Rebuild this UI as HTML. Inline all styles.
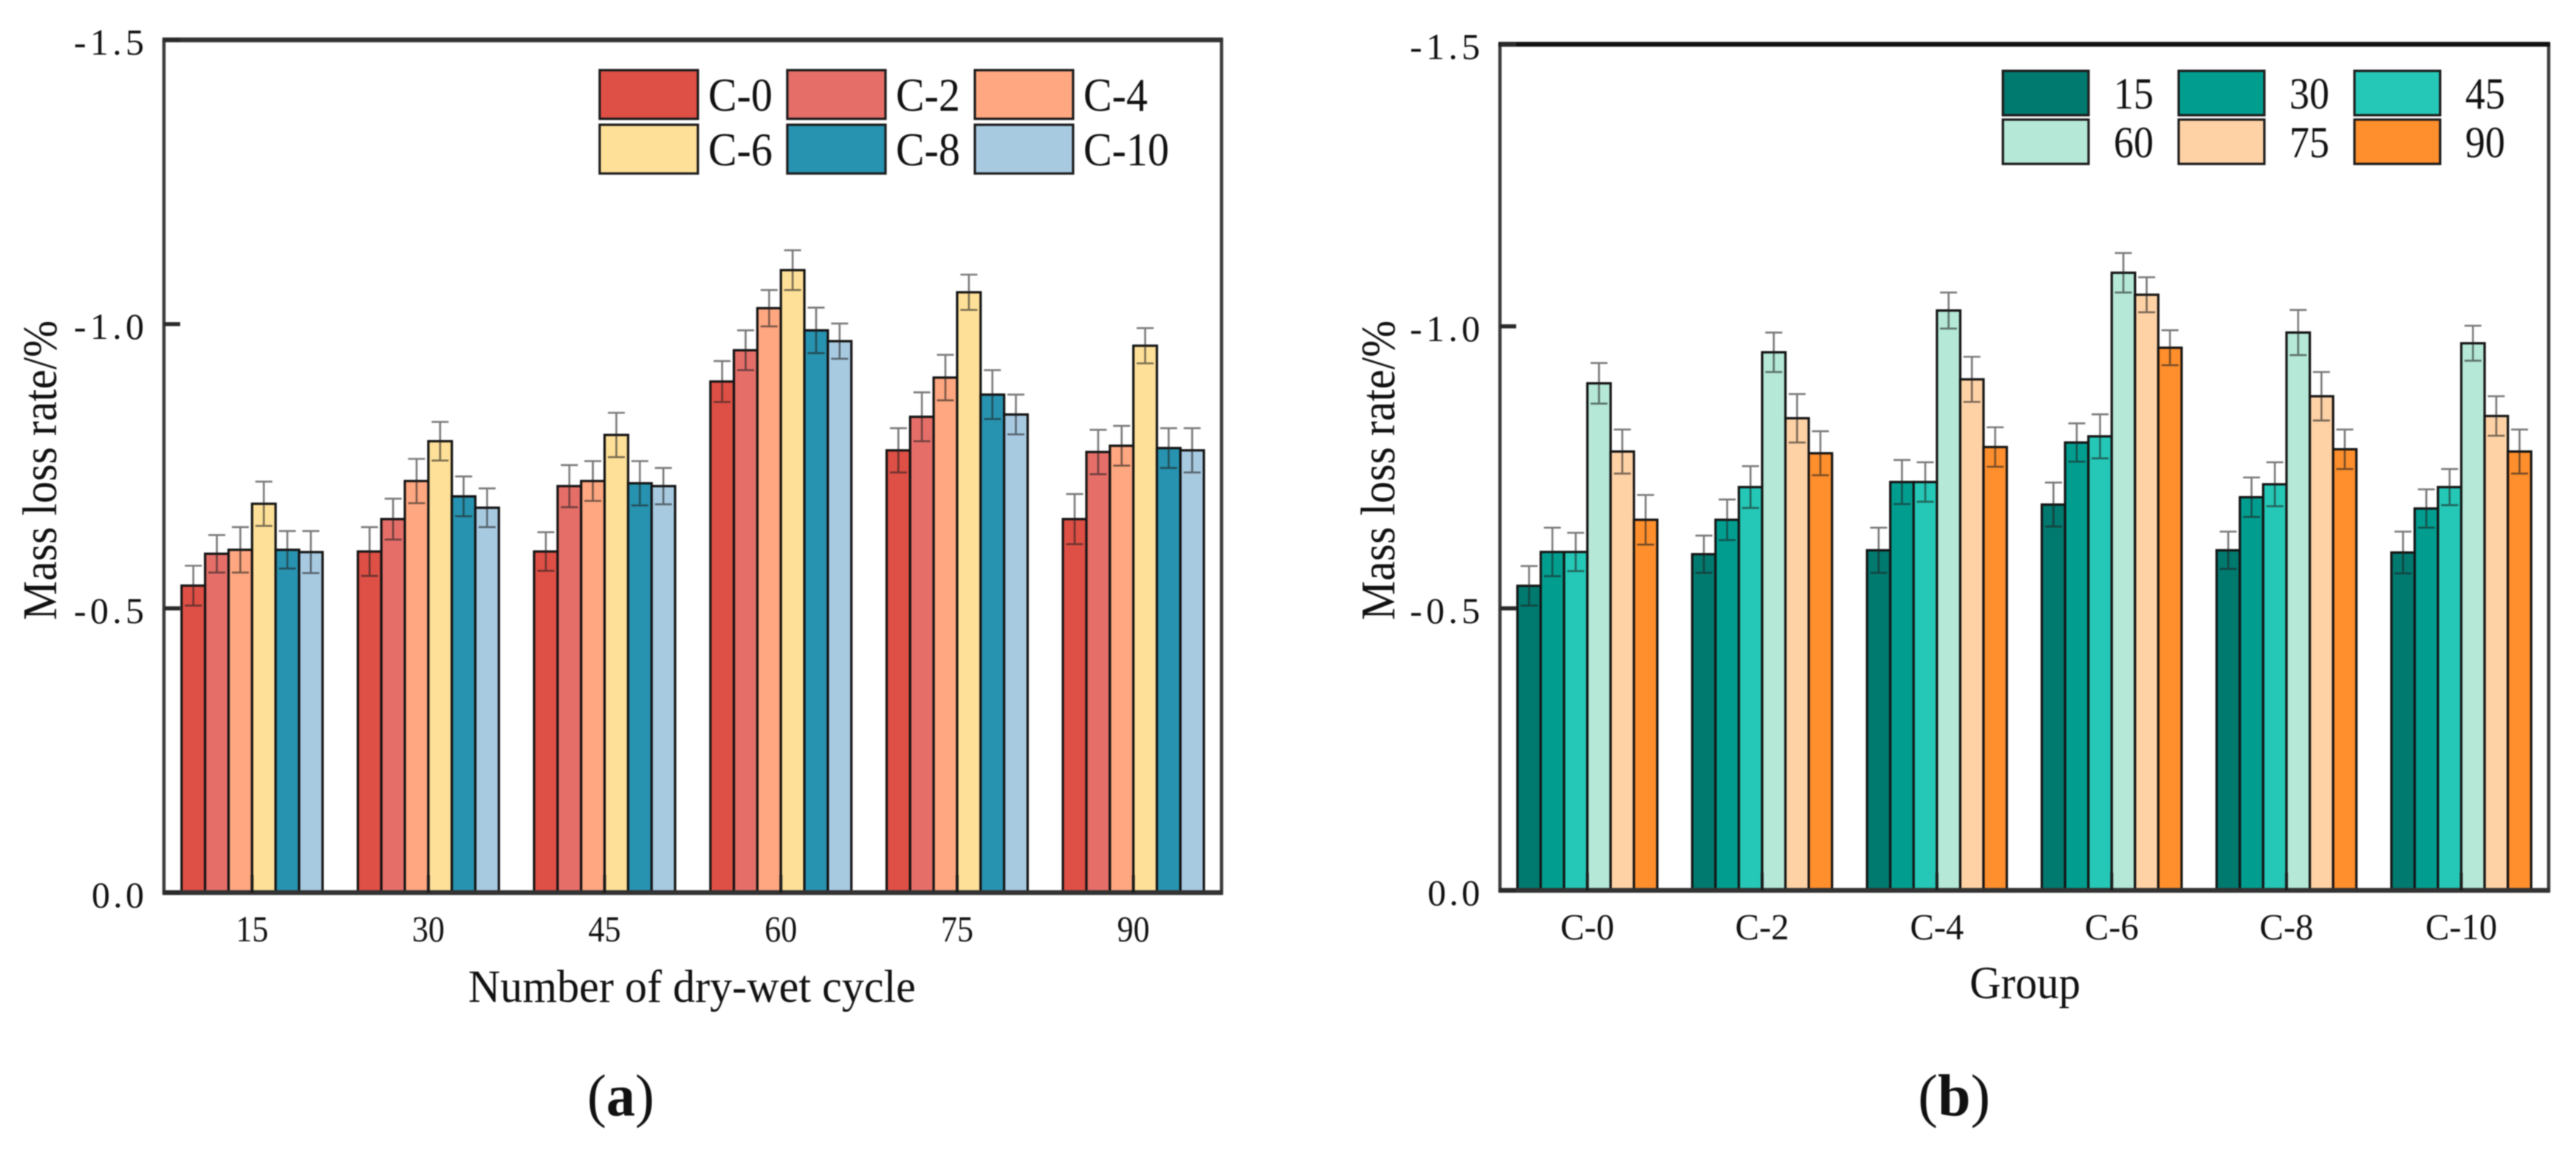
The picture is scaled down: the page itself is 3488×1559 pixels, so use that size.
<!DOCTYPE html>
<html lang="en">
<head>
<meta charset="utf-8">
<title>Mass loss rate charts</title>
<style>
html,body{margin:0;padding:0;background:#fff;width:3488px;height:1559px;overflow:hidden}
svg{display:block;filter:blur(0.7px)}
text{font-family:"Liberation Serif","Noto Serif CJK SC",serif;fill:#111}
</style>
</head>
<body>
<svg id="figure" xmlns="http://www.w3.org/2000/svg" width="3488" height="1559" viewBox="0 0 3488 1559">
  <rect x="0" y="0" width="3488" height="1559" fill="#fff"/>
  <g id="panel-a"></g>
  <g id="panel-b"></g>
  <text x="634" y="1357" font-size="62" textLength="606" lengthAdjust="spacingAndGlyphs">Number of dry-wet cycle</text>
  <text x="2667" y="1352" font-size="62" textLength="150" lengthAdjust="spacingAndGlyphs">Group</text>
  <text transform="translate(76,840) rotate(-90)" font-size="66" textLength="406" lengthAdjust="spacingAndGlyphs">Mass loss rate/%</text>
  <text transform="translate(1888,840) rotate(-90)" font-size="66" textLength="406" lengthAdjust="spacingAndGlyphs">Mass loss rate/%</text>
  <text x="795" y="1511" font-size="80" textLength="91" lengthAdjust="spacingAndGlyphs">(<tspan font-weight="bold">a</tspan>)</text>
  <text x="2597" y="1511" font-size="80" textLength="98" lengthAdjust="spacingAndGlyphs">(<tspan font-weight="bold">b</tspan>)</text>
</svg>
<script>
const cycleLabels = ['15', '30', '45', '60', '75', '90'];
const groupLabels = ['C-0', 'C-2', 'C-4', 'C-6', 'C-8', 'C-10'];
const yTickValues = [0, -0.5, -1.0, -1.5];
const yTickLabels = ['0.0', '-0.5', '-1.0', '-1.5'];

const massC0 = [-0.540, -0.600, -0.600, -0.899, -0.778, -0.657];
const massC2 = [-0.596, -0.657, -0.715, -0.954, -0.837, -0.775];
const massC4 = [-0.603, -0.724, -0.724, -1.028, -0.906, -0.786];
const massC6 = [-0.684, -0.794, -0.805, -1.095, -1.056, -0.962];
const massC8 = [-0.603, -0.697, -0.720, -0.989, -0.876, -0.782];
const massC10 = [-0.599, -0.677, -0.715, -0.970, -0.841, -0.778];

const errC0 = [0.035, 0.043, 0.034, 0.036, 0.039, 0.044];
const errC2 = [0.033, 0.036, 0.037, 0.035, 0.043, 0.039];
const errC4 = [0.040, 0.039, 0.035, 0.032, 0.040, 0.035];
const errC6 = [0.039, 0.034, 0.039, 0.035, 0.031, 0.031];
const errC8 = [0.033, 0.035, 0.039, 0.040, 0.043, 0.035];
const errC10 = [0.037, 0.034, 0.032, 0.031, 0.035, 0.039];

const massTable = [massC0, massC2, massC4, massC6, massC8, massC10];
const errTable = [errC0, errC2, errC4, errC6, errC8, errC10];

const groupColors = ['#DE4F45', '#E56E69', '#FFA780', '#FEE098', '#2793B0', '#A8CAE1'];
const cycleColors = ['#00796F', '#019E90', '#25C7B6', '#B5E8D7', '#FFD2A6', '#FF8E2C'];

const SVGNS = 'http://www.w3.org/2000/svg';
function make(parent, tag, attrs, content) {
  const el = document.createElementNS(SVGNS, tag);
  for (const k in attrs) el.setAttribute(k, attrs[k]);
  if (content !== undefined) el.textContent = content;
  parent.appendChild(el);
  return el;
}

function drawPanel(cfg) {
  const root = document.getElementById(cfg.id);
  const xBand = (cfg.right - cfg.left) / cfg.cats.length;
  const xCenter = i => cfg.left + xBand * (i + 0.5);
  const barW = xBand * 0.8 / cfg.series.length;
  const yAxis = v => cfg.y0 + v * cfg.yScale;

  const bars = make(root, 'g', {});
  
  
  const errs = make(root, 'g', {});
  
  

  cfg.cats.forEach((cat, c) => {
    cfg.series.forEach((ser, s) => {
      const v = cfg.value(c, s);
      const e = cfg.error(c, s);
      const bx = xCenter(c) + (s - cfg.series.length / 2) * barW;
      const rect = make(bars, 'rect', {
        x: bx, y: yAxis(v), width: barW, height: yAxis(0) - yAxis(v),
        fill: cfg.colors[s], stroke: '#141414', 'stroke-width': 3.2
      });
      
      

      const mid = bx + barW / 2;
      const yHi = yAxis(v - e);
      const yLo = yAxis(v + e);
      const eb = make(errs, 'path', {
        d: 'M' + mid + ' ' + yHi + 'V' + yLo +
           'M' + (mid - 11.5) + ' ' + yHi + 'H' + (mid + 11.5) +
           'M' + (mid - 11.5) + ' ' + yLo + 'H' + (mid + 11.5),
        fill: 'none', stroke: '#222', 'stroke-opacity': 0.6, 'stroke-width': 2.6
      });
      
      
    });
  });

  const frame = make(root, 'rect', {
    x: cfg.left, y: yAxis(-1.5), width: cfg.right - cfg.left, height: yAxis(0) - yAxis(-1.5),
    fill: 'none', stroke: '#3c3c3c', 'stroke-width': 4.5
  });
  
  

  const topSpine = make(root, 'line', {
    x1: cfg.left - 2, x2: cfg.right + 2, y1: yAxis(-1.5), y2: yAxis(-1.5),
    stroke: cfg.topColor, 'stroke-width': 6.5
  });
  
  

  const bottomSpine = make(root, 'line', {
    x1: cfg.left - 2, x2: cfg.right + 2, y1: yAxis(0), y2: yAxis(0),
    stroke: '#333', 'stroke-width': 6.5
  });
  
  

  yTickValues.forEach((tv, i) => {
    const tick = make(root, 'line', {
      x1: cfg.left, x2: cfg.left + 22, y1: yAxis(tv), y2: yAxis(tv),
      stroke: '#2a2a2a', 'stroke-width': 5.5
    });
    
    
    const isShort = yTickLabels[i].length === 3;
    const lab = make(root, 'text', {
      x: cfg.left - 27, y: yAxis(tv) + 20, 'font-size': 50, 'text-anchor': 'end',
      textLength: isShort ? 71 : 95, lengthAdjust: 'spacing'
    }, yTickLabels[i]);
    
    
  });

  cfg.cats.forEach((cat, c) => {
    const tick = make(root, 'line', {
      x1: xCenter(c), x2: xCenter(c), y1: yAxis(0), y2: yAxis(0) - 24,
      stroke: '#1c1c1c', 'stroke-width': 4
    });
    
    
    const lab = make(root, 'text', {
      x: xCenter(c), y: cfg.xLabelY, 'font-size': 50, 'text-anchor': 'middle',
      textLength: cat.length * cfg.xCharWidth, lengthAdjust: 'spacingAndGlyphs'
    }, cat);
    
    
  });

  const legend = make(root, 'g', {});
  
  
  cfg.series.forEach((ser, s) => {
    const col = s % 3;
    const row = Math.floor(s / 3);
    const lx = cfg.legend.x + col * cfg.legend.colStep;
    const ly = cfg.legend.y + row * cfg.legend.rowStep;
    const patch = make(legend, 'rect', {
      x: lx, y: ly, width: cfg.legend.w, height: cfg.legend.h,
      fill: cfg.colors[s], stroke: '#1c1c1c', 'stroke-width': 3.2
    });
    
    
    const t = make(legend, 'text', {
      x: lx + cfg.legend.labelDx, y: ly + cfg.legend.labelDy, 'font-size': cfg.legend.size,
      lengthAdjust: 'spacingAndGlyphs'
    }, ser);
    
    
    t.setAttribute('textLength', t.getComputedTextLength() * cfg.legend.squeeze);
  });
}

drawPanel({
  id: 'panel-a', prefix: 'panel-a',
  left: 222, right: 1654, y0: 1209, yScale: 770, xLabelY: 1275, xCharWidth: 22, topColor: '#333',
  cats: cycleLabels, series: groupLabels, colors: groupColors,
  value: (c, s) => massTable[s][c],
  error: (c, s) => errTable[s][c],
  legend: { x: 812, y: 95, w: 133, h: 66, colStep: 254, rowStep: 74, labelDx: 147, labelDy: 55, size: 63, squeeze: 0.92 }
});

drawPanel({
  id: 'panel-b', prefix: 'panel-b',
  left: 2031, right: 3451, y0: 1206, yScale: 764, xLabelY: 1272, xCharWidth: 24.3, topColor: '#111',
  cats: groupLabels, series: cycleLabels, colors: cycleColors,
  value: (c, s) => massTable[c][s],
  error: (c, s) => errTable[c][s],
  legend: { x: 2712, y: 96, w: 116, h: 60, colStep: 238, rowStep: 66, labelDx: 150, labelDy: 51, size: 60, squeeze: 0.9 }
});
</script>
</body>
</html>
